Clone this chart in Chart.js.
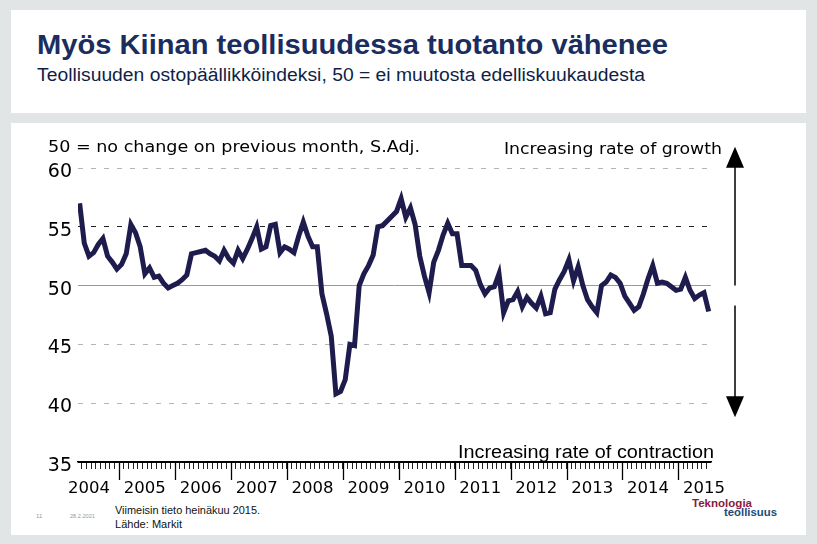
<!DOCTYPE html>
<html>
<head>
<meta charset="utf-8">
<script src="https://cdn.jsdelivr.net/npm/chart.js@4.4.0/dist/chart.umd.min.js"></script>
<style>
html, body { margin: 0; padding: 0; }
body { width: 817px; height: 544px; background: #e1e5e5; position: relative; overflow: hidden; font-family: "Liberation Sans", Arial, sans-serif; }
.panel { position: absolute; background: #fff; }
#head { left: 11px; top: 10px; width: 795px; height: 103px; }
#body { left: 11px; top: 123px; width: 795px; height: 412px; }
.fit { position: absolute; white-space: nowrap; transform-origin: 0 0; line-height: 1; }
#chart { position: absolute; left: 0; top: 0; }
</style>
</head>
<body>
<div class="panel" id="head"></div>
<div class="panel" id="body"></div>

<div class="fit" data-w="631" style="left:37px;top:32px;font-size:27px;font-weight:bold;color:#1a2d5e;">Myös Kiinan teollisuudessa tuotanto vähenee</div>
<div class="fit" data-w="608" style="left:37px;top:66px;font-size:18px;color:#0f1f48;">Teollisuuden ostopäällikköindeksi, 50 = ei muutosta edelliskuukaudesta</div>

<div class="fit" data-w="145" style="left:115px;top:505px;font-size:11px;color:#111;">Viimeisin tieto heinäkuu 2015.</div>
<div class="fit" data-w="67" style="left:115px;top:519px;font-size:11px;color:#111;">Lähde: Markit</div>
<div class="fit" style="left:36px;top:513px;font-size:6px;color:#999;">11</div>
<div class="fit" data-w="25" style="left:70px;top:513px;font-size:6px;color:#999;">28.2.2021</div>
<div class="fit" data-w="60" style="left:692px;top:498px;font-size:11px;font-weight:bold;color:#8a1a3e;">Teknologia</div>
<div class="fit" data-w="53" style="left:724px;top:507px;font-size:11px;font-weight:bold;color:#1d4a7a;">teollisuus</div>

<canvas id="chart" width="817" height="544"></canvas>

<script>
// Markit China manufacturing PMI, monthly, Apr 2004 - Jul 2015
const startYear = 2004;
const startMonth = 4;
const pmiValues = [
  57.0, 53.6, 52.5, 52.8, 53.5, 54.0, 52.5, 52.0, 51.4,             // 2004 Apr-Dec
  51.8, 52.7, 55.2, 54.5, 53.3, 51.0, 51.5, 50.7, 50.8, 50.2, 49.8, 50.0, // 2005
  50.2, 50.5, 50.9, 52.7, 52.8, 52.9, 53.0, 52.7, 52.5, 52.1, 53.0, 52.3, // 2006
  51.9, 53.0, 52.3, 53.1, 54.0, 55.0, 53.1, 53.3, 55.1, 55.2, 52.8, 53.3, // 2007
  53.1, 52.8, 54.2, 55.4, 54.2, 53.3, 53.3, 49.3, 47.6, 45.7, 40.8, 41.0, // 2008
  42.0, 45.0, 44.9, 50.0, 51.0, 51.7, 52.6, 55.0, 55.1, 55.5, 55.9, 56.3, // 2009
  57.4, 55.8, 56.6, 55.2, 52.5, 50.8, 49.4, 52.0, 53.0, 54.3, 55.3, 54.4, // 2010
  54.4, 51.7, 51.7, 51.7, 51.3, 50.1, 49.3, 49.8, 49.9, 51.0, 47.7, 48.7, // 2011
  48.8, 49.5, 48.2, 49.0, 48.5, 48.1, 49.1, 47.6, 47.7, 49.7, 50.5, 51.2, // 2012
  52.2, 50.4, 51.6, 50.0, 48.8, 48.2, 47.7, 50.0, 50.3, 50.9, 50.7, 50.2, // 2013
  49.1, 48.5, 47.9, 48.2, 49.3, 50.6, 51.7, 50.2, 50.3, 50.2, 49.9, 49.6, // 2014
  49.7, 50.7, 49.6, 48.9, 49.2, 49.4, 47.8                             // 2015 Jan-Jul
];
const yearLabels = ['2004', '2005', '2006', '2007', '2008', '2009', '2010', '2011', '2012', '2013', '2014', '2015'];
const yTicks = [35, 40, 45, 50, 55, 60];

// fit html texts to the widths seen in the slide
document.querySelectorAll('.fit[data-w]').forEach(function (el) {
    const w = el.getBoundingClientRect().width;
    el.style.transform = 'scaleX(' + (el.dataset.w / w) + ')';
});

// index of January of each year (relative to first month)
const firstJan = 12 - startMonth + 1;
function janIndex(k) { return firstJan + 12 * (k - 1); }

function fitText(ctx, text, x, y, width, font) {
    ctx.font = font;
    const w = ctx.measureText(text).width;
    ctx.save();
    ctx.translate(x, y);
    ctx.scale(width / w, 1);
    ctx.fillText(text, 0, 0);
    ctx.restore();
}

const slideNotes = {
    id: 'slideNotes',
    afterDraw(chart) {
        const ctx = chart.ctx;
        const xs = chart.scales.x;
        const ys = chart.scales.y;
        ctx.save();

        // long ticks at year boundaries
        ctx.strokeStyle = '#000';
        ctx.lineWidth = 1.3;
        for (let k = 1; k < yearLabels.length; k++) {
            const px = Math.round(xs.getPixelForValue(janIndex(k) - 0.5)) + 0.5;
            ctx.beginPath();
            ctx.moveTo(px, ys.bottom);
            ctx.lineTo(px, ys.bottom + 18);
            ctx.stroke();
        }

        ctx.fillStyle = '#000';
        ctx.textBaseline = 'middle';
        ctx.textAlign = 'left';
        fitText(ctx, '50 = no change on previous month, S.Adj.', 48, 148, 372, '16px "DejaVu Sans"');
        fitText(ctx, 'Increasing rate of growth', 504, 150, 218, '16px "DejaVu Sans"');
        fitText(ctx, 'Increasing rate of contraction', 458, 453, 256, '18px "Liberation Sans"');

        // double arrow on the right
        const ax = 735;
        const top = ys.getPixelForValue(61.8);
        const mid1 = ys.getPixelForValue(50);
        const mid2 = ys.getPixelForValue(48.3);
        const bot = ys.getPixelForValue(38.8);
        ctx.lineWidth = 1.5;
        ctx.beginPath();
        ctx.moveTo(ax, top + 18); ctx.lineTo(ax, mid1);
        ctx.moveTo(ax, mid2); ctx.lineTo(ax, bot - 18);
        ctx.stroke();
        ctx.beginPath();
        ctx.moveTo(ax, top); ctx.lineTo(ax - 9, top + 21); ctx.lineTo(ax + 9, top + 21); ctx.closePath();
        ctx.moveTo(ax, bot); ctx.lineTo(ax - 9, bot - 21); ctx.lineTo(ax + 9, bot - 21); ctx.closePath();
        ctx.fill();
        ctx.restore();
    }
};

const ctx = document.getElementById('chart').getContext('2d');
const pmiChart = new Chart(ctx, {
    type: 'line',
    data: {
        datasets: [{
            label: 'PMI',
            data: pmiValues.map((v, i) => ({ x: i, y: v })),
            borderColor: '#1e1b4d',
            borderWidth: 5,
            pointRadius: 0,
            tension: 0,
            fill: false
        }]
    },
    options: {
        responsive: false,
        animation: false,
        devicePixelRatio: 1,
        layout: { padding: { left: 38, top: 168, right: 106, bottom: 42 } },
        plugins: { legend: { display: false }, tooltip: { enabled: false } },
        scales: {
            x: {
                type: 'linear',
                min: -0.35,
                max: 135.5,
                afterBuildTicks(scale) {
                    const t = [];
                    for (let i = 0; i < pmiValues.length - 1; i++) t.push({ value: i + 0.5 });
                    yearLabels.forEach((y, k) => t.push({ value: janIndex(k) + 5 }));
                    scale.ticks = t;
                },
                afterFit(scale) { scale.height = 40; },
                ticks: {
                    autoSkip: false,
                    maxRotation: 0,
                    padding: 10,
                    color: '#000',
                    font: { family: 'DejaVu Sans', size: 16.5 },
                    callback(value) {
                        if (!Number.isInteger(value)) return '';
                        const k = Math.round((value - 5 - firstJan) / 12) + 1;
                        return yearLabels[k] || '';
                    }
                },
                grid: {
                    drawOnChartArea: false,
                    tickLength: 7,
                    tickWidth: 1,
                    tickColor: c => Number.isInteger(c.tick.value) ? 'rgba(0,0,0,0)' : '#222'
                },
                border: { display: true, color: '#000', width: 1.5 }
            },
            y: {
                min: 35,
                max: 60,
                afterBuildTicks(scale) { scale.ticks = yTicks.map(v => ({ value: v })); },
                afterFit(scale) { scale.width = 40; },
                ticks: {
                    padding: 6,
                    labelOffset: 4,
                    color: '#000',
                    font: { family: 'DejaVu Sans', size: 19 }
                },
                grid: {
                    drawTicks: false,
                    lineWidth: 1,
                    color: c => c.tick.value === 55 ? '#222' : c.tick.value === 50 ? '#999' : c.tick.value === 35 ? '#000' : '#b5b5b5'
                },
                border: {
                    display: false,
                    dash: c => (c.tick && (c.tick.value === 50 || c.tick.value === 35)) ? [] : [5, 8]
                }
            }
        }
    },
    plugins: [slideNotes]
});
</script>
</body>
</html>
